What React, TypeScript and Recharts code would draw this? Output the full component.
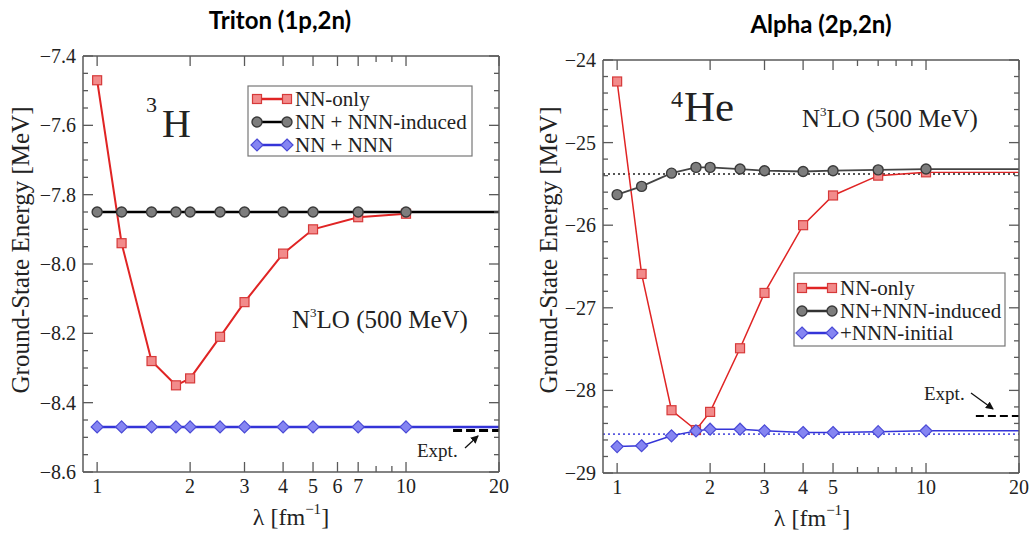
import React from "react";
import { LineChart, Line, XAxis, YAxis, ReferenceLine } from "recharts";

// ---------- data ----------
const lambdaTriton = [1, 1.2, 1.5, 1.8, 2, 2.5, 3, 4, 5, 7, 10];
const tritonNNOnly = [-7.47, -7.94, -8.28, -8.35, -8.33, -8.21, -8.11, -7.97, -7.9, -7.865, -7.855];
const tritonInduced = [-7.85, -7.85, -7.85, -7.85, -7.85, -7.85, -7.85, -7.85, -7.85, -7.85, -7.85];
const tritonFull = [-8.47, -8.47, -8.47, -8.47, -8.47, -8.47, -8.47, -8.47, -8.47, -8.47, -8.47];
const tritonExpt = -8.48;
const tritonExptStart = 14.2;

const lambdaAlpha = [1, 1.2, 1.5, 1.8, 2, 2.5, 3, 4, 5, 7, 10];
const alphaNNOnly = [-24.26, -26.59, -28.24, -28.48, -28.26, -27.49, -26.82, -26.0, -25.64, -25.4, -25.36];
const alphaInduced = [-25.63, -25.53, -25.37, -25.3, -25.3, -25.32, -25.34, -25.35, -25.34, -25.33, -25.32];
const alphaFull = [-28.68, -28.67, -28.55, -28.49, -28.47, -28.47, -28.49, -28.51, -28.51, -28.5, -28.49];
const alphaInducedRef = -25.38;
const alphaFullRef = -28.53;
const alphaExpt = -28.31;
const alphaExptStart = 14.5;

const lambdaEnd = 20;
const xDomain: [number, number] = [0.9, 20];

const tritonXTicks = [1, 2, 3, 4, 5, 6, 7, 8, 9, 10, 20];
const tritonXLabels = [1, 2, 3, 4, 5, 6, 7, 10, 20];
const tritonXMajor = [1, 2, 3, 4, 5, 6, 7, 10, 20];
const alphaXTicks = [1, 2, 3, 4, 5, 6, 7, 8, 9, 10, 20];
const alphaXLabels = [1, 2, 3, 4, 5, 10, 20];
const alphaXMajor = [1, 2, 3, 4, 5, 10, 20];

const tritonYMajor = [-8.6, -8.4, -8.2, -8.0, -7.8, -7.6, -7.4];
const tritonYMinorStep = 0.05;
const alphaYMajor = [-29, -28, -27, -26, -25, -24];
const alphaYMinorStep = 0.2;

// ---------- helpers ----------
const SERIF = "'Liberation Serif', 'Times New Roman', Times, 'DejaVu Serif', 'Noto Serif', serif";
const FRAME = "#5a5a5a";
const TXT = "#222";

const buildTicks = (majors: number[], step: number) => {
  const lo = Math.min(...majors);
  const hi = Math.max(...majors);
  const n = Math.round((hi - lo) / step);
  const out: number[] = [];
  for (let i = 0; i <= n; i++) out.push(+(lo + i * step).toFixed(4));
  return out;
};
const isIn = (arr: number[], v: number) => arr.some((a) => Math.abs(a - v) < 1e-6);
const fmtMinus = (s: string) => s.replace("-", "\u2212");

const series = (xs: number[], ys: number[]) => xs.map((x, i) => ({ x, y: ys[i] }));
const tail = (xs: number[], ys: number[]) => [
  { x: xs[xs.length - 1], y: ys[ys.length - 1] },
  { x: lambdaEnd, y: ys[ys.length - 1] },
];

const squareDot = (fill: string, stroke: string, s: number) => (p: any) => (
  <rect key={`sq-${p.index}`} x={p.cx - s / 2} y={p.cy - s / 2} width={s} height={s} fill={fill} stroke={stroke} strokeWidth={1.2} />
);
const circleDot = (fill: string, stroke: string, r: number) => (p: any) => (
  <circle key={`ci-${p.index}`} cx={p.cx} cy={p.cy} r={r} fill={fill} stroke={stroke} strokeWidth={1.4} />
);
const diamondDot = (fill: string, stroke: string, r: number) => (p: any) => (
  <path
    key={`di-${p.index}`}
    d={`M${p.cx},${p.cy - r}L${p.cx + r},${p.cy}L${p.cx},${p.cy + r}L${p.cx - r},${p.cy}Z`}
    fill={fill}
    stroke={stroke}
    strokeWidth={1.2}
  />
);

const txtStyle = (size: number) => ({ fontFamily: SERIF, fontSize: size });

const xTickBottom = (labels: number[], majors: number[]) => (p: any) => {
  const v = p.payload.value;
  const len = isIn(majors, v) ? 10 : 6;
  return (
    <g>
      <line x1={p.x} x2={p.x} y1={p.y} y2={p.y - len} stroke={FRAME} strokeWidth={1.3} />
      {isIn(labels, v) && (
        <text x={p.x} y={p.y + 21} textAnchor="middle" style={txtStyle(20)} fill={TXT}>
          {String(v)}
        </text>
      )}
    </g>
  );
};
const xTickTop = (majors: number[]) => (p: any) => {
  const v = p.payload.value;
  const len = isIn(majors, v) ? 10 : 6;
  return <line x1={p.x} x2={p.x} y1={p.y} y2={p.y + len} stroke={FRAME} strokeWidth={1.3} />;
};
const yTickLeft = (majors: number[], digits: number) => (p: any) => {
  const v = p.payload.value;
  const major = isIn(majors, v);
  const len = major ? 10 : 5;
  return (
    <g>
      <line x1={p.x} x2={p.x + len} y1={p.y} y2={p.y} stroke={FRAME} strokeWidth={1.3} />
      {major && (
        <text x={p.x - 7} y={p.y + 7} textAnchor="end" style={txtStyle(20)} fill={TXT}>
          {fmtMinus(v.toFixed(digits))}
        </text>
      )}
    </g>
  );
};
const yTickRight = (majors: number[]) => (p: any) => {
  const v = p.payload.value;
  const len = isIn(majors, v) ? 10 : 5;
  return <line x1={p.x} x2={p.x - len} y1={p.y} y2={p.y} stroke={FRAME} strokeWidth={1.3} />;
};

const RED_L = "#e02424";
const RED_F = "#f28b8b";
const RED_S = "#d63a3a";
const GRY_F = "#7d7d7d";
const GRY_S = "#3a3a3a";
const BLU_L = "#3434d8";
const BLU_F = "#8585f2";
const BLU_S = "#4a4ad6";

// ---------- panels ----------
function TritonChart() {
  const yTicks = buildTicks(tritonYMajor, tritonYMinorStep);
  return (
    <LineChart width={520} height={538} margin={{ top: 55, right: 20, bottom: 0, left: 0 }}>
      <XAxis xAxisId="b" dataKey="x" type="number" scale="log" domain={xDomain} allowDataOverflow ticks={tritonXTicks} interval={0}
        height={66} tickSize={0} tickMargin={0} tickLine={false} axisLine={{ stroke: FRAME, strokeWidth: 1.5 }} tick={xTickBottom(tritonXLabels, tritonXMajor)} />
      <XAxis xAxisId="t" orientation="top" dataKey="x" type="number" scale="log" domain={xDomain} allowDataOverflow ticks={tritonXTicks} interval={0}
        height={1} tickSize={0} tickMargin={0} tickLine={false} axisLine={{ stroke: FRAME, strokeWidth: 1.5 }} tick={xTickTop(tritonXMajor)} />
      <YAxis yAxisId="l" type="number" domain={[-8.6, -7.4]} allowDataOverflow ticks={yTicks} interval={0} width={83}
        tickSize={0} tickMargin={0} tickLine={false} axisLine={{ stroke: FRAME, strokeWidth: 1.5 }} tick={yTickLeft(tritonYMajor, 1)} />
      <YAxis yAxisId="r" orientation="right" type="number" domain={[-8.6, -7.4]} allowDataOverflow ticks={yTicks} interval={0} width={1}
        tickSize={0} tickMargin={0} tickLine={false} axisLine={{ stroke: FRAME, strokeWidth: 1.5 }} tick={yTickRight(tritonYMajor)} />

      <ReferenceLine xAxisId="b" yAxisId="l" segment={[{ x: tritonExptStart, y: tritonExpt }, { x: lambdaEnd, y: tritonExpt }]}
        stroke="#000" strokeWidth={3} strokeDasharray="9 4" />

      <Line xAxisId="b" yAxisId="l" data={series(lambdaTriton, tritonNNOnly)} dataKey="y" stroke={RED_L} strokeWidth={2}
        dot={squareDot(RED_F, RED_S, 9)} isAnimationActive={false} />
      <Line xAxisId="b" yAxisId="l" data={tail(lambdaTriton, tritonInduced)} dataKey="y" stroke="#000" strokeWidth={2.5}
        dot={false} isAnimationActive={false} />
      <Line xAxisId="b" yAxisId="l" data={series(lambdaTriton, tritonInduced)} dataKey="y" stroke="#000" strokeWidth={2.5}
        dot={circleDot(GRY_F, GRY_S, 5)} isAnimationActive={false} />
      <Line xAxisId="b" yAxisId="l" data={tail(lambdaTriton, tritonFull)} dataKey="y" stroke={BLU_L} strokeWidth={2.5}
        dot={false} isAnimationActive={false} />
      <Line xAxisId="b" yAxisId="l" data={series(lambdaTriton, tritonFull)} dataKey="y" stroke={BLU_L} strokeWidth={2.5}
        dot={diamondDot(BLU_F, BLU_S, 6)} isAnimationActive={false} />
    </LineChart>
  );
}

function AlphaChart() {
  const yTicks = buildTicks(alphaYMajor, alphaYMinorStep);
  return (
    <LineChart width={518} height={538} margin={{ top: 59, right: 13, bottom: 0, left: 0 }}>
      <XAxis xAxisId="b" dataKey="x" type="number" scale="log" domain={xDomain} allowDataOverflow ticks={alphaXTicks} interval={0}
        height={65} tickSize={0} tickMargin={0} tickLine={false} axisLine={{ stroke: FRAME, strokeWidth: 1.5 }} tick={xTickBottom(alphaXLabels, alphaXMajor)} />
      <XAxis xAxisId="t" orientation="top" dataKey="x" type="number" scale="log" domain={xDomain} allowDataOverflow ticks={alphaXTicks} interval={0}
        height={1} tickSize={0} tickMargin={0} tickLine={false} axisLine={{ stroke: FRAME, strokeWidth: 1.5 }} tick={xTickTop(alphaXMajor)} />
      <YAxis yAxisId="l" type="number" domain={[-29, -24]} allowDataOverflow ticks={yTicks} interval={0} width={88}
        tickSize={0} tickMargin={0} tickLine={false} axisLine={{ stroke: FRAME, strokeWidth: 1.5 }} tick={yTickLeft(alphaYMajor, 0)} />
      <YAxis yAxisId="r" orientation="right" type="number" domain={[-29, -24]} allowDataOverflow ticks={yTicks} interval={0} width={1}
        tickSize={0} tickMargin={0} tickLine={false} axisLine={{ stroke: FRAME, strokeWidth: 1.5 }} tick={yTickRight(alphaYMajor)} />

      <ReferenceLine xAxisId="b" yAxisId="l" y={alphaInducedRef} stroke="#555" strokeWidth={1.8} strokeDasharray="2 3" />
      <ReferenceLine xAxisId="b" yAxisId="l" y={alphaFullRef} stroke="#5a5ae0" strokeWidth={1.8} strokeDasharray="2 3" />
      <ReferenceLine xAxisId="b" yAxisId="l" segment={[{ x: alphaExptStart, y: alphaExpt }, { x: lambdaEnd, y: alphaExpt }]}
        stroke="#000" strokeWidth={1.8} strokeDasharray="8 4" />

      <Line xAxisId="b" yAxisId="l" data={tail(lambdaAlpha, alphaNNOnly)} dataKey="y" stroke={RED_L} strokeWidth={1.2}
        dot={false} isAnimationActive={false} />
      <Line xAxisId="b" yAxisId="l" data={series(lambdaAlpha, alphaNNOnly)} dataKey="y" stroke={RED_L} strokeWidth={1.5}
        dot={squareDot(RED_F, RED_S, 9)} isAnimationActive={false} />
      <Line xAxisId="b" yAxisId="l" data={tail(lambdaAlpha, alphaInduced)} dataKey="y" stroke="#444" strokeWidth={1.8}
        dot={false} isAnimationActive={false} />
      <Line xAxisId="b" yAxisId="l" data={series(lambdaAlpha, alphaInduced)} dataKey="y" stroke="#444" strokeWidth={1.8}
        dot={circleDot(GRY_F, GRY_S, 5)} isAnimationActive={false} />
      <Line xAxisId="b" yAxisId="l" data={tail(lambdaAlpha, alphaFull)} dataKey="y" stroke={BLU_L} strokeWidth={1.5}
        dot={false} isAnimationActive={false} />
      <Line xAxisId="b" yAxisId="l" data={series(lambdaAlpha, alphaFull)} dataKey="y" stroke={BLU_L} strokeWidth={1.5}
        dot={diamondDot(BLU_F, BLU_S, 6)} isAnimationActive={false} />
    </LineChart>
  );
}

// ---------- overlay (titles, labels, legends, annotations) ----------
function LegendRow({ x, y, kind, label, lineColor }: { x: number; y: number; kind: "sq" | "ci" | "di"; label: string; lineColor: string }) {
  const x1 = x;
  const x2 = x + 30;
  const marker = (cx: number) => {
    if (kind === "sq") return <rect x={cx - 4.5} y={y - 4.5} width={9} height={9} fill={RED_F} stroke={RED_S} strokeWidth={1.2} />;
    if (kind === "ci") return <circle cx={cx} cy={y} r={5} fill={GRY_F} stroke={GRY_S} strokeWidth={1.4} />;
    return <path d={`M${cx},${y - 6}L${cx + 6},${y}L${cx},${y + 6}L${cx - 6},${y}Z`} fill={BLU_F} stroke={BLU_S} strokeWidth={1.2} />;
  };
  return (
    <g>
      <line x1={x1} x2={x2} y1={y} y2={y} stroke={lineColor} strokeWidth={2.5} />
      {marker(x1)}
      {marker(x2)}
      <text x={x2 + 8} y={y + 7} style={txtStyle(21)} fill={TXT}>
        {label}
      </text>
    </g>
  );
}

function Overlay() {
  const titleFont = "Lato, 'Open Sans', sans-serif";
  return (
    <svg width={1033} height={538} style={{ position: "absolute", left: 0, top: 0, pointerEvents: "none" }}>
      <defs>
        <marker id="arr" markerWidth="8" markerHeight="8" refX="7" refY="4" orient="auto" markerUnits="userSpaceOnUse">
          <path d="M0,0L8,4L0,8Z" fill="#111" />
        </marker>
      </defs>
      {/* titles */}
      <text x={280} y={29} textAnchor="middle" fontSize={24} fontWeight={700} fontFamily={titleFont} fill="#000">Triton (1p,2n)</text>
      <text x={821} y={33} textAnchor="middle" fontSize={24} fontWeight={700} fontFamily={titleFont} fill="#000">Alpha (2p,2n)</text>

      {/* axis titles */}
      <text transform="translate(29,250) rotate(-90)" textAnchor="middle" style={txtStyle(25)} fill={TXT}>Ground-State Energy [MeV]</text>
      <text transform="translate(557,250) rotate(-90)" textAnchor="middle" style={txtStyle(25)} fill={TXT}>Ground-State Energy [MeV]</text>
      <text x={291} y={525} textAnchor="middle" style={txtStyle(24)} fill={TXT}>
        λ [fm<tspan style={{ fontSize: 15 }} dy={-11}>−1</tspan><tspan dy={11}>]</tspan>
      </text>
      <text x={812} y={526} textAnchor="middle" style={txtStyle(24)} fill={TXT}>
        λ [fm<tspan style={{ fontSize: 15 }} dy={-11}>−1</tspan><tspan dy={11}>]</tspan>
      </text>

      {/* nucleus labels */}
      <text x={146} y={112} style={txtStyle(22)} fill={TXT}>3</text>
      <text x={162} y={137} style={txtStyle(40)} fill={TXT}>H</text>
      <text x={671} y={107} style={txtStyle(24)} fill={TXT}>4</text>
      <text x={684} y={121} style={txtStyle(43)} fill={TXT}>He</text>

      {/* N3LO labels */}
      <text x={292} y={328} style={txtStyle(25)} fill={TXT}>
        N<tspan style={{ fontSize: 13 }} dy={-11}>3</tspan><tspan dy={11}>LO (500 MeV)</tspan>
      </text>
      <text x={802} y={127} style={txtStyle(25)} fill={TXT}>
        N<tspan style={{ fontSize: 13 }} dy={-11}>3</tspan><tspan dy={11}>LO (500 MeV)</tspan>
      </text>

      {/* Expt annotations */}
      <text x={417} y={457} style={txtStyle(19)} fill={TXT}>Expt.</text>
      <line x1={465} y1={448} x2={478} y2={436} stroke="#111" strokeWidth={1.3} markerEnd="url(#arr)" />
      <text x={924} y={400} style={txtStyle(19)} fill={TXT}>Expt.</text>
      <line x1={971} y1={393} x2={993} y2={409} stroke="#111" strokeWidth={1.3} markerEnd="url(#arr)" />

      {/* legends */}
      <rect x={248} y={86} width={224} height={70} fill="#fff" stroke="#777" strokeWidth={1.2} />
      <LegendRow x={257} y={99} kind="sq" label="NN-only" lineColor={RED_L} />
      <LegendRow x={257} y={122} kind="ci" label="NN + NNN-induced" lineColor="#000" />
      <LegendRow x={257} y={145} kind="di" label="NN + NNN" lineColor={BLU_L} />

      <rect x={794} y={273} width={211} height={73} fill="#fff" stroke="#777" strokeWidth={1.2} />
      <LegendRow x={802} y={288} kind="sq" label="NN-only" lineColor={RED_L} />
      <LegendRow x={802} y={311} kind="ci" label="NN+NNN-induced" lineColor="#333" />
      <LegendRow x={802} y={333} kind="di" label="+NNN-initial" lineColor={BLU_L} />
    </svg>
  );
}

export default function App() {
  return (
    <div style={{ position: "absolute", left: 0, top: 0, width: 1033, height: 538, background: "#fff", overflow: "hidden" }}>
      <div style={{ position: "absolute", left: 0, top: 0 }}>
        <TritonChart />
      </div>
      <div style={{ position: "absolute", left: 515, top: 0 }}>
        <AlphaChart />
      </div>
      <Overlay />
    </div>
  );
}
